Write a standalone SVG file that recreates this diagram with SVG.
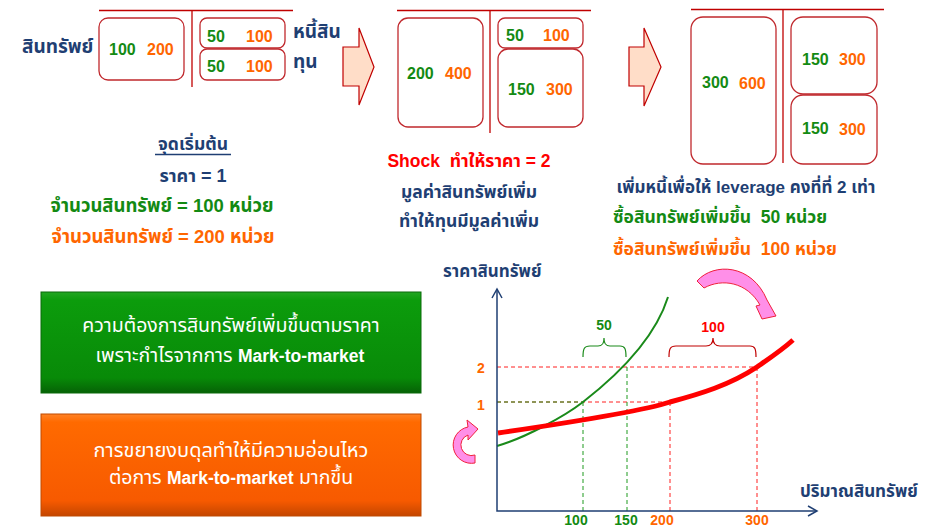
<svg xmlns="http://www.w3.org/2000/svg" width="939" height="528" viewBox="0 0 939 528">
<defs>
<linearGradient id="gGreen" x1="0" y1="0" x2="0" y2="1">
<stop offset="0" stop-color="#22A622"/><stop offset="0.08" stop-color="#0C9C0C"/><stop offset="0.85" stop-color="#088A08"/><stop offset="1" stop-color="#066206"/>
</linearGradient>
<linearGradient id="gOrange" x1="0" y1="0" x2="0" y2="1">
<stop offset="0" stop-color="#FF8226"/><stop offset="0.08" stop-color="#FF6A00"/><stop offset="0.85" stop-color="#F75A00"/><stop offset="1" stop-color="#C44600"/>
</linearGradient>
</defs>
<style>
text{font-family:"Liberation Sans","Noto Sans Thai","Noto Sans","DejaVu Sans",sans-serif;font-weight:bold;white-space:pre}
.bs{fill:#fff;stroke:#C0282D;stroke-width:1.3}
.ln{stroke:#C00000;stroke-width:1.3;fill:none}
.g{fill:#138A13}
.o{fill:#FF6600}
.n{fill:#1F3F73}
.r{fill:#FF0000}
.w{fill:#fff;font-weight:normal;font-size:19.5px}
.num{font-size:16px}
.t{font-size:17.5px}
.lab{font-size:19px}
.blk{fill:#FFDDC8;stroke:#C00000;stroke-width:1.2}
.pink{fill:#FF8FE8;stroke:#F0203C;stroke-width:1}
.ax{stroke:#1F3F73;stroke-width:1.5;fill:none}
.dg{stroke:#1E9A1E;stroke-width:1;stroke-dasharray:4 3;fill:none}
.dr{stroke:#FF2020;stroke-width:1;stroke-dasharray:4 3;fill:none}
.tick{font-size:14px}
</style>

<!-- Balance sheet 1 -->
<g id="bs1">
<line class="ln" x1="99" y1="10.5" x2="293" y2="10.5"/>
<line class="ln" x1="192" y1="10.5" x2="192" y2="87"/>
<rect class="bs" x="99" y="18" width="85" height="62" rx="9"/>
<rect class="bs" x="200" y="18" width="85" height="30" rx="7"/>
<rect class="bs" x="200" y="49" width="85" height="31" rx="7"/>
<text class="n lab" x="22" y="53">สินทรัพย์</text>
<text class="g num" x="109" y="55">100</text><text class="o num" x="147" y="55">200</text>
<text class="g num" x="207" y="42">50</text><text class="o num" x="246" y="42">100</text>
<text class="g num" x="207" y="72">50</text><text class="o num" x="246" y="72">100</text>
<text class="n lab" x="293" y="38">หนี้สิน</text>
<text class="n lab" x="293" y="68">ทุน</text>
</g>

<g id="arrow1"><path class="blk" d="M343,47 L359,47 L359,28 L374,67 L359,105 L359,86 L343,86 Z"/></g>

<!-- Balance sheet 2 -->
<g id="bs2">
<line class="ln" x1="397" y1="10.5" x2="591" y2="10.5"/>
<line class="ln" x1="490" y1="10.5" x2="490" y2="133"/>
<rect class="bs" x="398" y="18" width="85" height="109" rx="10"/>
<rect class="bs" x="498" y="18" width="85" height="30" rx="7"/>
<rect class="bs" x="498" y="49" width="85" height="78" rx="10"/>
<text class="g num" x="407" y="79">200</text><text class="o num" x="445" y="79">400</text>
<text class="g num" x="506" y="41">50</text><text class="o num" x="543" y="41">100</text>
<text class="g num" x="508" y="95">150</text><text class="o num" x="546" y="95">300</text>
</g>

<g id="arrow2"><path class="blk" d="M629,47 L644,47 L644,28 L661,67 L644,106 L644,86 L629,86 Z"/></g>

<!-- Balance sheet 3 -->
<g id="bs3">
<line class="ln" x1="691" y1="9.5" x2="884" y2="9.5"/>
<line class="ln" x1="783" y1="9.5" x2="783" y2="163"/>
<rect class="bs" x="691" y="17" width="85" height="147" rx="12"/>
<rect class="bs" x="791" y="17" width="86" height="77" rx="12"/>
<rect class="bs" x="791" y="95" width="86" height="69" rx="12"/>
<text class="g num" x="702" y="88">300</text><text class="o num" x="739" y="89">600</text>
<text class="g num" x="802" y="65">150</text><text class="o num" x="839" y="65">300</text>
<text class="g num" x="802" y="134">150</text><text class="o num" x="839" y="135">300</text>
</g>

<!-- Text block 1 -->
<g id="start">
<text class="n t" x="193" y="150" text-anchor="middle">จุดเริ่มต้น</text>
<line x1="155" y1="154.5" x2="231" y2="154.5" stroke="#1F3F73" stroke-width="1.3"/>
<text class="n t" x="193" y="182" text-anchor="middle" style="font-size:18px">ราคา = 1</text>
<text class="g t" x="162" y="212" text-anchor="middle" style="font-size:18.5px">จำนวนสินทรัพย์ = 100 หน่วย</text>
<text class="o t" x="163" y="243" text-anchor="middle" style="font-size:18.5px">จำนวนสินทรัพย์ = 200 หน่วย</text>
</g>

<!-- Text block 2 -->
<g id="shock">
<text class="r t" x="469" y="167" text-anchor="middle">Shock  ทำให้ราคา = 2</text>
<text class="n t" x="469" y="198" text-anchor="middle">มูลค่าสินทรัพย์เพิ่ม</text>
<text class="n t" x="469" y="227" text-anchor="middle">ทำให้ทุนมีมูลค่าเพิ่ม</text>
</g>

<!-- Text block 3 -->
<g id="leverage">
<text class="n t" x="746" y="193" text-anchor="middle" style="font-size:17px">เพิ่มหนี้เพื่อให้ leverage คงที่ที่ 2 เท่า</text>
<text class="g t" x="613" y="223">ซื้อสินทรัพย์เพิ่มขึ้น  50 หน่วย</text>
<text class="o t" x="613" y="255">ซื้อสินทรัพย์เพิ่มขึ้น  100 หน่วย</text>
</g>

<!-- Boxes -->
<g id="greenBox">
<rect x="41" y="292" width="380" height="101" fill="url(#gGreen)" stroke="#0A6A0A" stroke-width="1"/>
<text class="w" x="231" y="332" text-anchor="middle">ความต้องการสินทรัพย์เพิ่มขึ้นตามราคา</text>
<text class="w" x="230" y="362" text-anchor="middle">เพราะกำไรจากการ <tspan font-weight="bold" style="font-size:17.5px">Mark-to-market</tspan></text>
</g>
<g id="orangeBox">
<rect x="41" y="414" width="380" height="102" fill="url(#gOrange)" stroke="#C04A00" stroke-width="1"/>
<text class="w" x="231" y="457" text-anchor="middle" style="font-size:20px">การขยายงบดุลทำให้มีความอ่อนไหว</text>
<text class="w" x="231" y="484" text-anchor="middle">ต่อการ <tspan font-weight="bold" style="font-size:17.5px">Mark-to-market</tspan> มากขึ้น</text>
</g>

<!-- Chart -->
<g id="chart">
<text class="n" x="443" y="277" style="font-size:17px">ราคาสินทรัพย์</text>
<text class="n" x="800" y="497" style="font-size:17px">ปริมาณสินทรัพย์</text>
<line class="dr" x1="497" y1="367" x2="757" y2="367"/>
<line class="dr" x1="497" y1="402" x2="670" y2="402"/>
<line class="dg" x1="497" y1="402" x2="583" y2="402"/>
<line class="dg" x1="583" y1="402" x2="583" y2="511"/>
<line class="dg" x1="627" y1="367" x2="627" y2="511"/>
<line class="dr" x1="670" y1="402" x2="670" y2="511"/>
<line class="dr" x1="757" y1="367" x2="757" y2="511"/>
<path d="M497,446 C525,438 565,416 583,402 C601,388 652,348 668,297" fill="none" stroke="#1A8A1A" stroke-width="2"/>
<path d="M498,433 C560,424 640,412 670,402 C700,394 730,385 757,367 C770,358 782,350 793,340" fill="none" stroke="#FF0000" stroke-width="5"/>
<path class="ax" d="M497,289 L497,511 L817,511"/>
<path class="ax" d="M492,298 L497,289 L502,298"/>
<path class="ax" d="M808,506 L817,511 L808,516"/>
<text class="o tick" x="477" y="373">2</text>
<text class="o tick" x="477" y="410">1</text>
<text class="g tick" x="576" y="525" text-anchor="middle">100</text>
<text class="g tick" x="626" y="525" text-anchor="middle">150</text>
<text class="o tick" x="662" y="525" text-anchor="middle">200</text>
<text class="o tick" x="757" y="525" text-anchor="middle">300</text>
<path d="M583,357 C583,349 584,346 590,346 L598,346 C603,346 604,343 604,338 C604,343 605,346 610,346 L620,346 C625,346 626,349 626,357" fill="none" stroke="#1A8A1A" stroke-width="1.2"/>
<text class="g tick" x="604" y="330" text-anchor="middle">50</text>
<path d="M669,357 C669,349 670,346 676,346 L706,346 C711,346 713,343 713,338 C713,343 715,346 720,346 L750,346 C755,346 756,349 756,357" fill="none" stroke="#C00000" stroke-width="1.2"/>
<text class="r tick" x="713" y="332" text-anchor="middle">100</text>
</g>

<g id="pinkArrow1"><path class="pink" d="M697,281 C714,262 752,264 767,300 L776,316 L762,319 L756,306 L760,305 C747,282 722,278 704,288 Z"/></g>
<g id="pinkArrow2"><path class="pink" d="M475,463 A18,18 0 1 1 468,427 L467,420 L478,429 L468,440 L468,435 A10,10 0 1 0 475,455 Z"/></g>
</svg>
